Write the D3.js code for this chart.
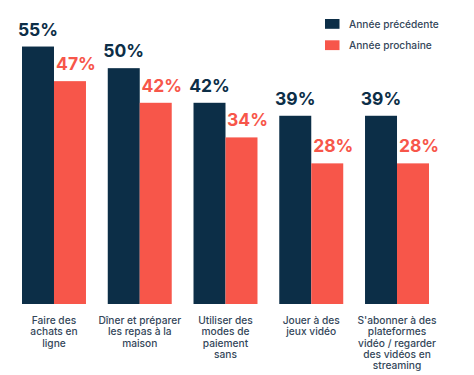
<!DOCTYPE html>
<html><head><meta charset="utf-8">
<script src="https://cdn.jsdelivr.net/npm/d3@7"></script>
<style>
html,body{margin:0;padding:0;background:#fff;}
svg{display:block;font-family:Inter, "Noto Sans", sans-serif;}
</style></head>
<body><svg id="c" width="474" height="375"></svg>
<script>
const categories = [
  "Faire des\nachats en\nligne",
  "Dîner et préparer\nles repas à la\nmaison",
  "Utiliser des\nmodes de\npaiement\nsans",
  "Jouer à des\njeux vidéo",
  "S'abonner à des\nplateformes\nvidéo / regarder\ndes vidéos en\nstreaming"
];
const seriesNames = ["Année précédente", "Année prochaine"];
const previousYear = [55, 50, 42, 39, 39];
const nextYear = [47, 42, 34, 28, 28];
const colors = ["#0c2e47", "#f7564a"];

const svg = d3.select("#c");
const x0 = d3.scaleBand().domain(d3.range(categories.length)).range([22, 429]).paddingInner(0.254).paddingOuter(0);
const x1 = d3.scaleBand().domain([0, 1]).range([0, x0.bandwidth()]);
const y = d3.scaleLinear().domain([-4.5, 60]).range([304, 24.9]);

const series = [previousYear, nextYear];
series.forEach((vals, s) => {
  const g = svg.append("g");
  g.selectAll("rect").data(vals).join("rect")
    .attr("x", (d, i) => x0(i) + x1(s))
    .attr("y", d => y(d))
    .attr("width", x1.bandwidth())
    .attr("height", d => y(-4.5) - y(d))
    .attr("fill", colors[s]);
  g.selectAll("text").data(vals).join("text")
    .attr("x", (d, i) => x0(i) + x1(s) + x1.bandwidth() / 2 + (s === 1 ? 6 : 0))
    .attr("y", d => y(d) - 11)
    .attr("text-anchor", "middle")
    .attr("font-size", 17.5)
    .attr("font-weight", 700)
    .attr("fill", colors[s])
    .text(d => d + "%");
});

// category labels
const cl = svg.append("g");
categories.forEach((c, i) => {
  const t = cl.append("text")
    .attr("x", x0(i) + x0.bandwidth() / 2)
    .attr("y", 324)
    .attr("text-anchor", "middle")
    .attr("font-size", 10.2)
    .attr("font-weight", 500)
    .attr("fill", "#34475a");
  c.split("\n").forEach((line, j) => {
    t.append("tspan").attr("x", x0(i) + x0.bandwidth() / 2).attr("dy", j === 0 ? 0 : 11.3).text(line);
  });
});

// legend
const lg = svg.append("g");
seriesNames.forEach((n, i) => {
  lg.append("rect").attr("x", 325).attr("y", 19 + i * 21.3).attr("width", 14.5).attr("height", 9.8).attr("fill", colors[i]);
  lg.append("text").attr("x", 349).attr("y", 27.8 + i * 21.3)
    .attr("font-size", 10.2).attr("font-weight", 500).attr("fill", "#34475a").text(n);
});
</script></body></html>
